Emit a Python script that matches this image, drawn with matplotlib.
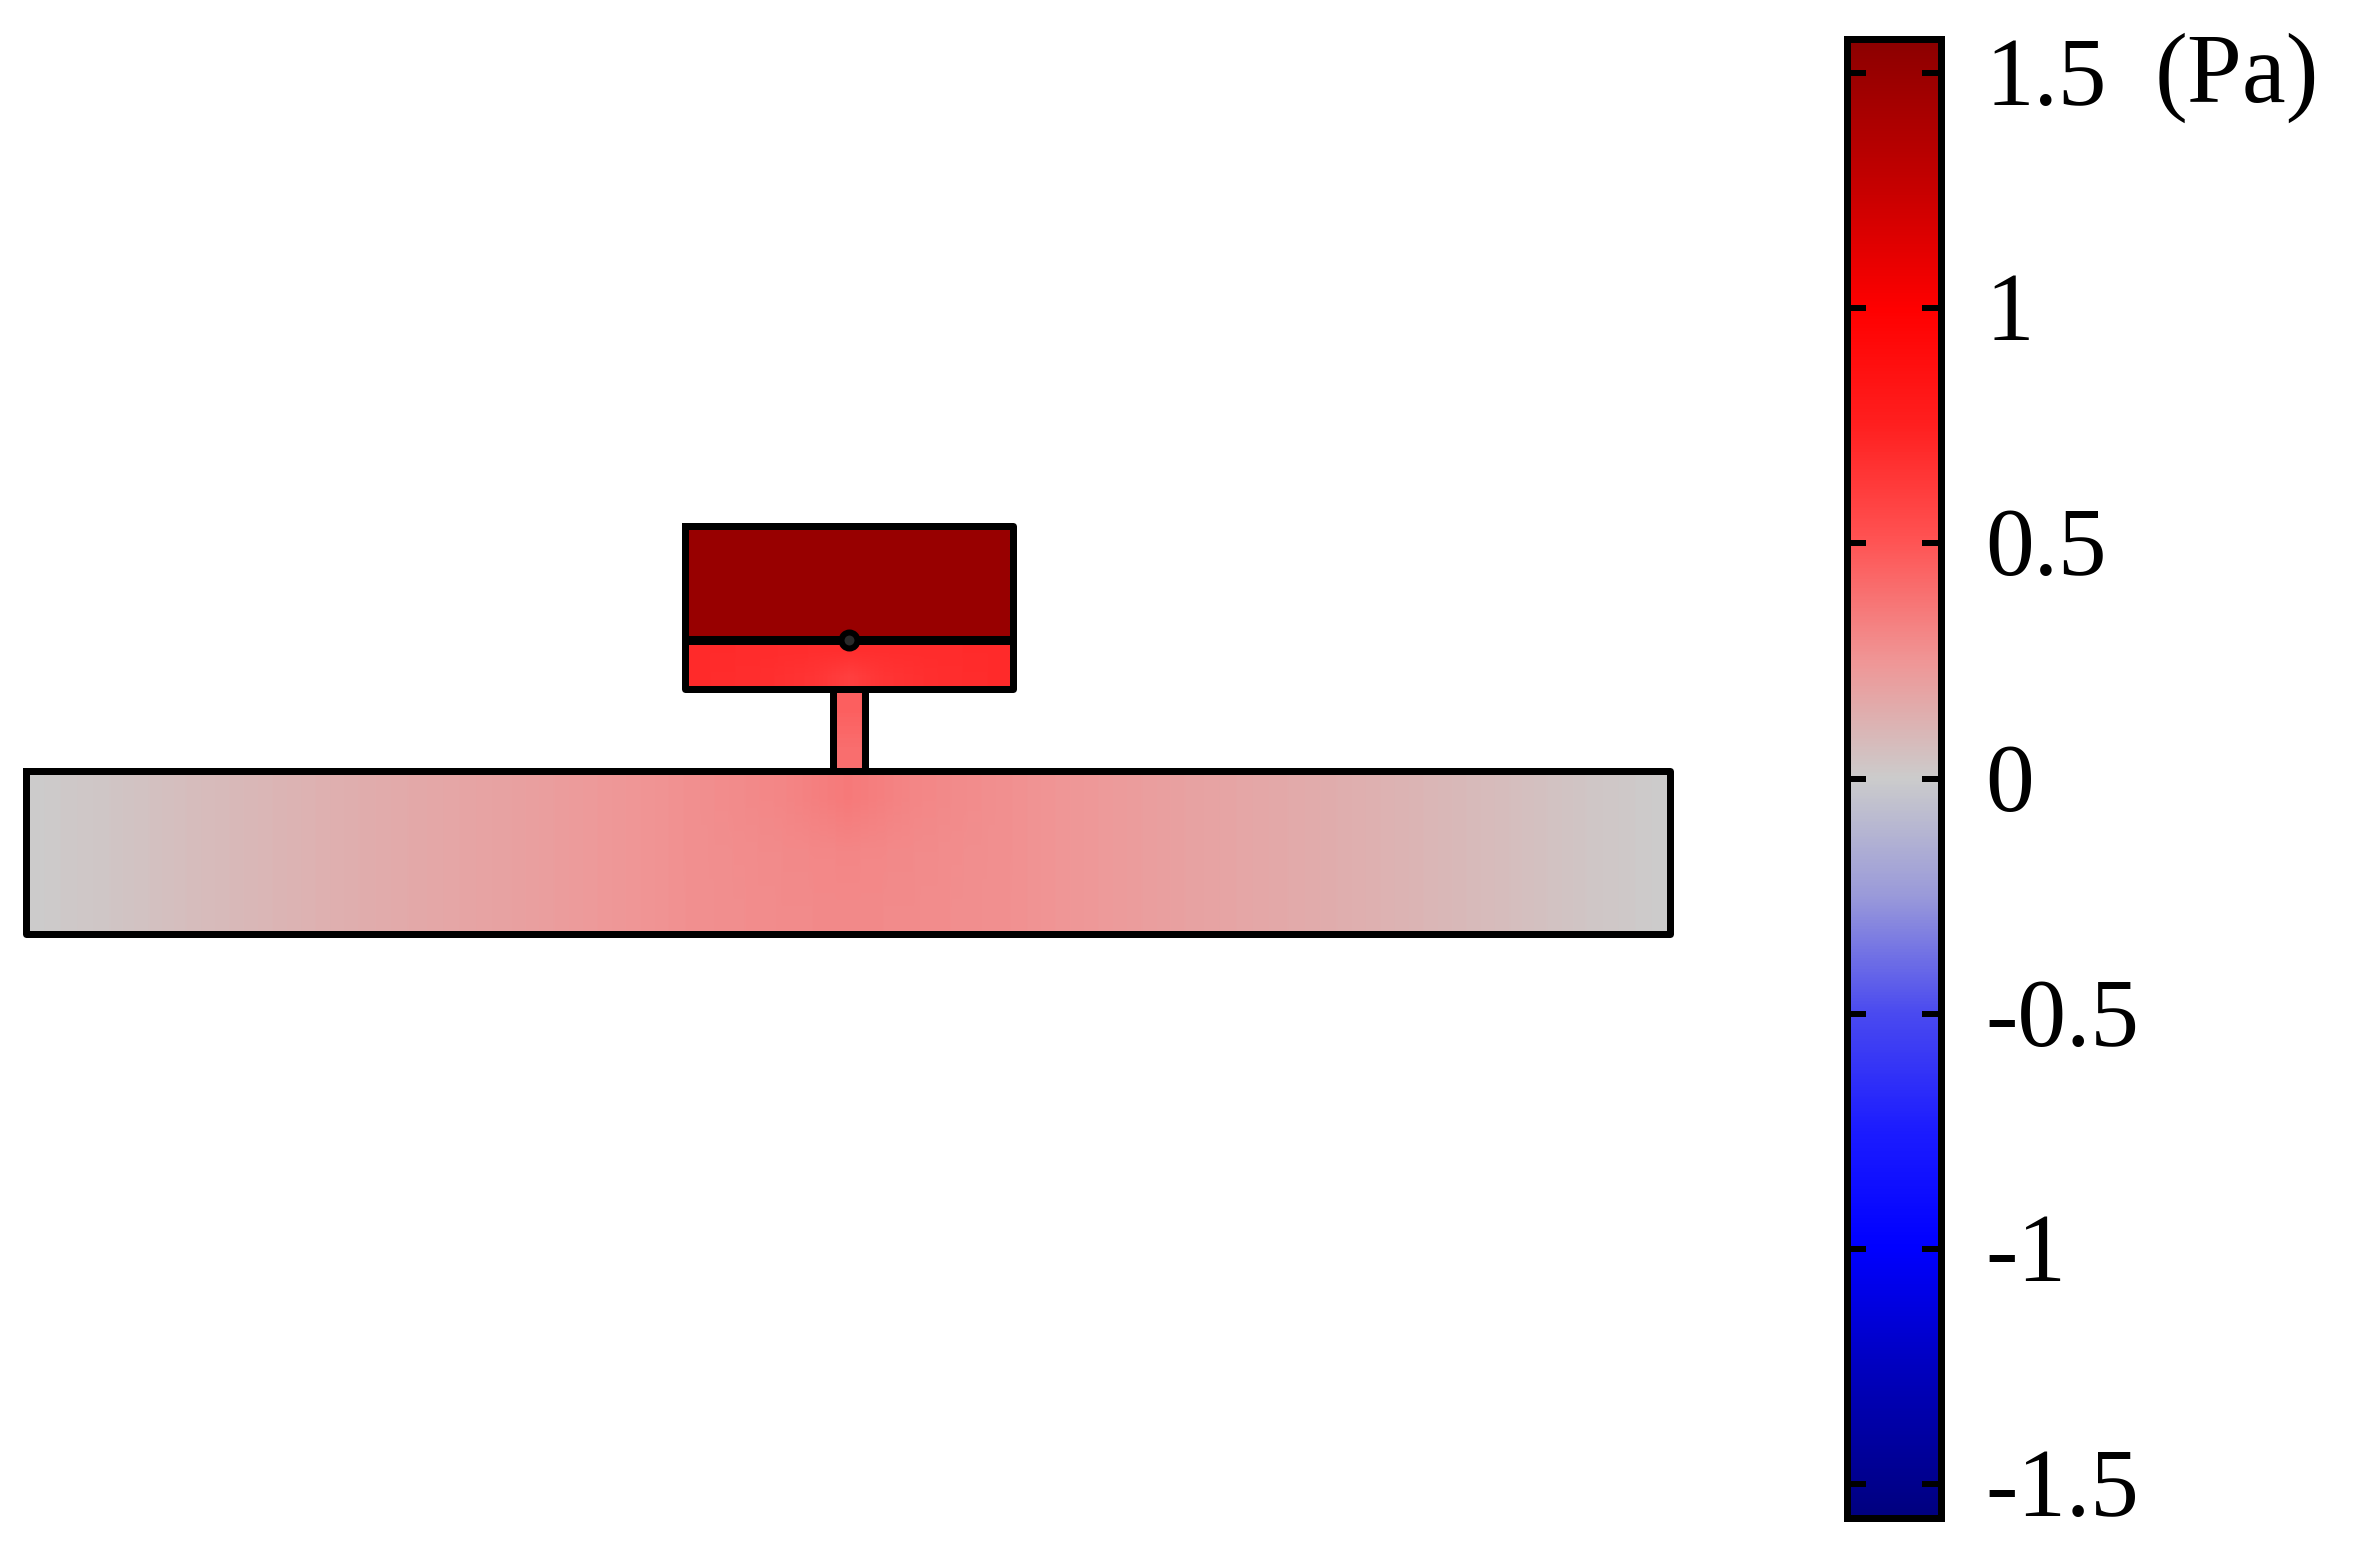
import numpy as np
import matplotlib
matplotlib.use("Agg")
import matplotlib.pyplot as plt
from matplotlib.colors import LinearSegmentedColormap, Normalize

W, H, DPI = 2366, 1550, 100
VMIN, VMAX = -1.572, 1.572
cbar_ticks = [1.5, 1, 0.5, 0, -0.5, -1, -1.5]
cbar_labels = ["1.5", "1", "0.5", "0", "-0.5", "-1", "-1.5"]
unit_label = "(Pa)"

# colormap nodes: value, rgb
cmap_values = [-1.572, -1.25, -1.0, -0.75, -0.5, -0.25, 0.0, 0.25, 0.5, 0.75, 1.0, 1.25, 1.572]
cmap_colors = ["#00007f", "#0000c0", "#0000ff", "#1c1cff", "#4a4af0", "#9a9ada", "#cccccc",
               "#f09696", "#ff5555", "#ff2020", "#ff0000", "#c80000", "#8c0000"]

# pressure along the plate, left to right (normalised position 0..1)
plate_pos = [0.0, 0.05, 0.1, 0.2, 0.3, 0.4, 0.46, 0.5, 0.54, 0.6, 0.7, 0.8, 0.9, 0.95, 1.0]
plate_top_p = [0.0, 0.03, 0.07, 0.14, 0.2, 0.27, 0.31, 0.36, 0.31, 0.27, 0.2, 0.14, 0.07, 0.03, 0.0]
plate_mid_p = [0.0, 0.03, 0.07, 0.14, 0.2, 0.27, 0.295, 0.31, 0.295, 0.27, 0.2, 0.14, 0.07, 0.03, 0.0]
plate_bot_p = [0.0, 0.03, 0.07, 0.14, 0.2, 0.27, 0.29, 0.30, 0.29, 0.27, 0.2, 0.14, 0.07, 0.03, 0.0]
# stem, top to bottom
stem_p = [0.46, 0.40]
# lower block, left to right
lower_pos = [0.0, 0.25, 0.4, 0.5, 0.6, 0.75, 1.0]
lower_top_p = [0.70, 0.69, 0.68, 0.68, 0.68, 0.69, 0.70]
lower_bot_p = [0.70, 0.68, 0.65, 0.60, 0.65, 0.68, 0.70]
# upper block
upper_p = [1.5, 1.5]

nodes = [(v - VMIN) / (VMAX - VMIN) for v in cmap_values]
cmap = LinearSegmentedColormap.from_list("wave", list(zip(nodes, cmap_colors)), N=512)
norm = Normalize(VMIN, VMAX)

plt.rcParams["font.family"] = ["Liberation Serif", "DejaVu Serif"]
fig = plt.figure(figsize=(W / DPI, H / DPI), dpi=DPI, facecolor="white")

ax = fig.add_axes([0, 0, 1, 1])
ax.set_xlim(0, W)
ax.set_ylim(H, 0)
ax.axis("off")

PX = 72 / DPI
LW = 7 * PX


def block(x0, x1, y0, y1, field):
    f = np.atleast_2d(field)
    ax.imshow(f, extent=(x0, x1, y1, y0), cmap=cmap, norm=norm, aspect="auto",
              interpolation="bilinear", zorder=1)
    ax.plot([x0, x1, x1, x0, x0], [y0, y0, y1, y1, y0], color="black", lw=LW,
            solid_joinstyle="round", zorder=3)


gx = np.linspace(0, 1, 800)
plate_field = np.array([np.interp(gx, plate_pos, r) for r in (plate_top_p, plate_mid_p, plate_bot_p)])
lower_field = np.array([np.interp(gx, lower_pos, r) for r in (lower_top_p, lower_bot_p)])
block(26, 1670, 771, 934, plate_field)
block(833, 865, 689, 771, np.array(stem_p).reshape(-1, 1))
block(685, 1013, 640, 689, lower_field)
block(685, 1013, 526, 640, np.array(upper_p).reshape(-1, 1))
ax.plot([685, 1013], [640, 640], color="black", lw=9 * PX, zorder=4, solid_capstyle="butt")
ax.plot([849], [640], marker="o", ms=16 * PX, mfc="#2a2a2a", mec="black", mew=6 * PX, zorder=5)
ax.set_xlim(0, W)
ax.set_ylim(H, 0)

# colour bar
top, bottom, left, right = 39, 1518, 1847, 1941
cax = fig.add_axes([left / W, 1 - bottom / H, (right - left) / W, (bottom - top) / H])
grad = np.linspace(VMIN, VMAX, 1024).reshape(-1, 1)
cax.imshow(grad, origin="lower", extent=(0, 1, VMIN, VMAX), aspect="auto", cmap=cmap, norm=norm)
cax.set_xlim(0, 1)
cax.set_ylim(VMIN, VMAX)
cax.set_xticks([])
cax.set_yticks(cbar_ticks)
cax.set_yticklabels([])
cax.tick_params(axis="y", direction="in", length=19 * PX, width=6 * PX,
                left=True, right=True, color="black")
for s in cax.spines.values():
    s.set_linewidth(7 * PX)
for t, lab in zip(cbar_ticks, cbar_labels):
    y_px = ax.transData.inverted().transform(cax.transData.transform((0, t)))[1]
    fig.text(1985 / W, 1 - (y_px + 32) / H, lab, fontsize=70, color="black", ha="left", va="baseline")
fig.text(2155 / W, 1 - 102 / H, unit_label, fontsize=71, color="black", ha="left", va="baseline")

fig.savefig("out.png", dpi=DPI, facecolor="white")
